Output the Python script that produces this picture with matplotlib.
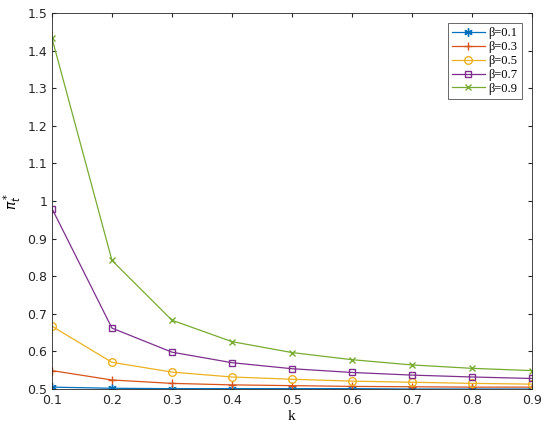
import matplotlib
matplotlib.use("Agg")
import matplotlib.pyplot as plt

k = [0.1, 0.2, 0.3, 0.4, 0.5, 0.6, 0.7, 0.8, 0.9]
labels = ["β=0.1", "β=0.3", "β=0.5", "β=0.7", "β=0.9"]
b01 = [0.505, 0.502, 0.501, 0.501, 0.501, 0.501, 0.500, 0.500, 0.500]
b03 = [0.549, 0.524, 0.515, 0.511, 0.509, 0.507, 0.506, 0.505, 0.505]
b05 = [0.667, 0.571, 0.545, 0.532, 0.526, 0.521, 0.518, 0.515, 0.513]
b07 = [0.980, 0.662, 0.598, 0.570, 0.554, 0.544, 0.537, 0.532, 0.528]
b09 = [1.433, 0.842, 0.683, 0.626, 0.597, 0.578, 0.564, 0.555, 0.549]
series = [b01, b03, b05, b07, b09]
colors = ["#0072BD", "#D95319", "#EDB120", "#7E2F8E", "#77AC30"]
markers = [(6, 2, 0), "+", "o", "s", "x"]
sizes = [6, 6, 5.5, 5, 5]

fig = plt.figure(figsize=(5.5, 4.32), dpi=100)
ax = fig.add_axes([0.0945, 0.0995, 0.8725, 0.8705])
for y, c, m, ms, lab in zip(series, colors, markers, sizes, labels):
    ax.plot(k, y, color=c, marker=m, markersize=ms, markerfacecolor="none",
            markeredgewidth=1.0, linewidth=0.9, label=lab)

ax.set_xlim(0.1, 0.9)
ax.set_ylim(0.5, 1.5)
ax.set_xticks(k)
ax.set_xticklabels(["0.1", "0.2", "0.3", "0.4", "0.5", "0.6", "0.7", "0.8", "0.9"])
ax.set_yticks([0.5, 0.6, 0.7, 0.8, 0.9, 1.0, 1.1, 1.2, 1.3, 1.4, 1.5])
ax.set_yticklabels(["0.5", "0.6", "0.7", "0.8", "0.9", "1", "1.1", "1.2", "1.3", "1.4", "1.5"])
ax.tick_params(direction="in", top=True, right=True, labelsize=9, colors="#262626", length=3)
for s in ax.spines.values():
    s.set_color("#262626")
    s.set_linewidth(0.6)
ax.set_xlabel("k", family="Liberation Serif", fontsize=11, labelpad=2)
ax.set_ylabel(r"$\pi_t^*$", fontsize=10, labelpad=2)
leg = ax.legend(loc="upper right", prop={"family": "Liberation Serif", "size": 9},
                fancybox=False, edgecolor="#262626", handlelength=2.6, borderaxespad=0.8,
                labelspacing=0.15, handletextpad=0.3, borderpad=0.35)
leg.get_frame().set_linewidth(0.6)
fig.savefig("out.png", dpi=100)
